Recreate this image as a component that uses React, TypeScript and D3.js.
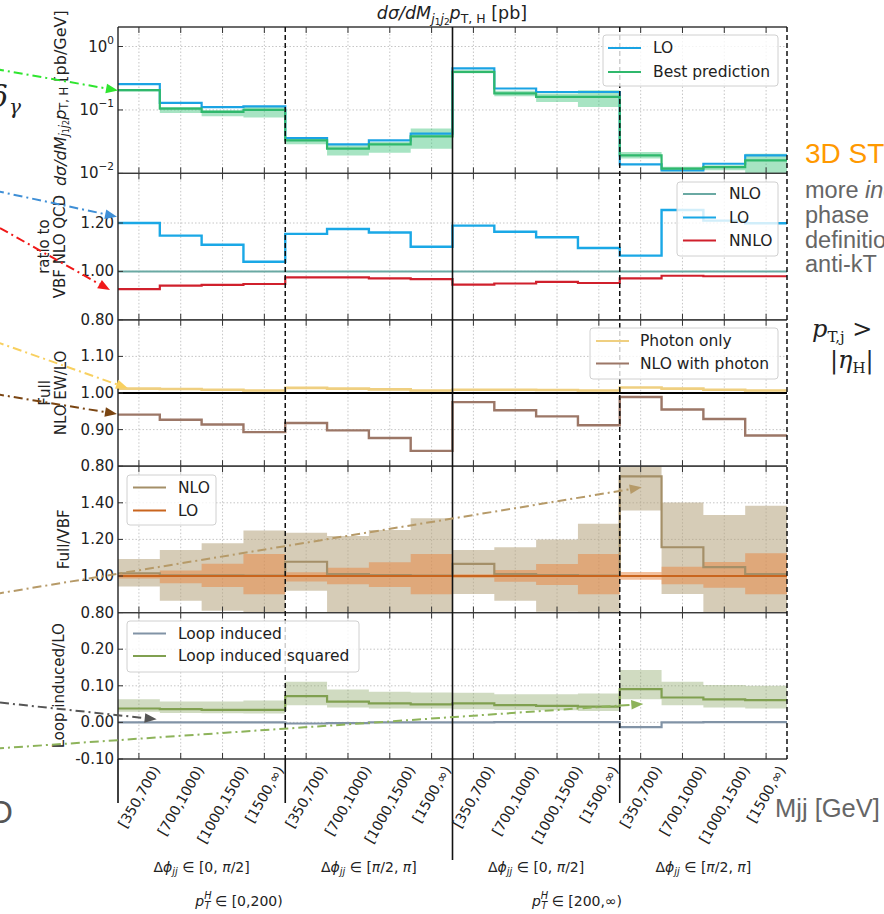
import React, { useEffect, useRef } from 'react';
import * as d3 from 'd3';

// ---------------- data ----------------
const mjjLabels = ['[350,700)', '[700,1000)', '[1000,1500)', '[1500,\u221e)'];
const dphiRanges = [['0', 'π/2'], ['π/2', 'π'], ['0', 'π/2'], ['π/2', 'π']];
const ptRanges = ['[0,200)', '[200,\u221e)'];

// panel 1: dσ/dMjj pT,H [pb/GeV]
const xsecLO = [0.255, 0.129, 0.111, 0.114, 0.0361, 0.0287, 0.0332, 0.0424, 0.451, 0.218, 0.192, 0.192, 0.0139, 0.0111, 0.0142, 0.0192];
const xsecBest = [0.205, 0.105, 0.093, 0.1, 0.0332, 0.0245, 0.0287, 0.0384, 0.398, 0.182, 0.161, 0.161, 0.0192, 0.0119, 0.0126, 0.016];
const xsecBestLo = [0.196, 0.0897, 0.0795, 0.0759, 0.0287, 0.0192, 0.0212, 0.0245, 0.38, 0.164, 0.134, 0.111, 0.0171, 0.0108, 0.0112, 0.0101];
const xsecBestHi = [0.212, 0.111, 0.1, 0.111, 0.035, 0.0278, 0.0313, 0.0508, 0.42, 0.2, 0.182, 0.205, 0.0217, 0.0127, 0.0135, 0.0204];

// panel 2: ratio to VBF NLO QCD
const ratioNLO = [1, 1, 1, 1, 1, 1, 1, 1, 1, 1, 1, 1, 1, 1, 1, 1];
const ratioLO = [1.2, 1.148, 1.11, 1.04, 1.155, 1.175, 1.161, 1.102, 1.189, 1.164, 1.141, 1.097, 1.065, 1.254, 1.21, 1.199];
const ratioNNLO = [0.927, 0.941, 0.944, 0.948, 0.975, 0.975, 0.971, 0.968, 0.945, 0.95, 0.957, 0.952, 0.971, 0.982, 0.98, 0.98];

// panel 3: Full NLO EW / LO
const ewPhoton = [1.012, 1.011, 1.009, 1.007, 1.014, 1.012, 1.01, 1.007, 1.009, 1.009, 1.008, 1.007, 1.015, 1.012, 1.009, 1.007];
const ewNLO = [0.941, 0.927, 0.914, 0.893, 0.918, 0.898, 0.877, 0.842, 0.975, 0.953, 0.936, 0.912, 0.989, 0.955, 0.929, 0.884];

// panel 4: Full/VBF
const fullNLO = [1.015, 1.004, 1.004, 1.002, 1.078, 1.011, 1.005, 1.002, 1.066, 1.011, 1.005, 1.002, 1.544, 1.157, 1.048, 1.011];
const fullNLOLo = [0.942, 0.865, 0.81, 0.78, 0.92, 0.78, 0.78, 0.78, 0.901, 0.865, 0.804, 0.78, 1.358, 0.901, 0.78, 0.78];
const fullNLOHi = [1.093, 1.142, 1.179, 1.248, 1.237, 1.219, 1.252, 1.316, 1.142, 1.157, 1.2, 1.285, 1.62, 1.402, 1.334, 1.384];
const fullLO = [1, 1, 1, 1, 1, 1, 1, 1, 1, 1, 1, 1, 1, 1, 1, 1];
const fullLOLo = [0.987, 0.96, 0.94, 0.9, 0.97, 0.955, 0.94, 0.9, 0.99, 0.968, 0.951, 0.9, 0.98, 0.955, 0.936, 0.9];
const fullLOHi = [1.013, 1.03, 1.067, 1.12, 1.02, 1.045, 1.075, 1.12, 1.01, 1.033, 1.066, 1.12, 1.022, 1.05, 1.077, 1.125];

// panel 5: Loop induced / LO
const loopInd = [0, 0, 0, 0, -0.003, -0.002, 0, 0, 0, 0.001, 0.001, 0.001, -0.013, 0, 0.001, 0.001];
const loopSq = [0.038, 0.036, 0.034, 0.034, 0.072, 0.057, 0.052, 0.049, 0.052, 0.047, 0.045, 0.043, 0.091, 0.068, 0.063, 0.061];
const loopSqLo = [0.029, 0.026, 0.025, 0.024, 0.047, 0.041, 0.038, 0.038, 0.036, 0.034, 0.033, 0.031, 0.063, 0.047, 0.041, 0.038];
const loopSqHi = [0.063, 0.057, 0.057, 0.06, 0.111, 0.09, 0.084, 0.082, 0.081, 0.077, 0.077, 0.079, 0.143, 0.111, 0.102, 0.1];

// ---------------- layout ----------------
const W = 884, H = 914;
const PL = 118, PR = 787, T0 = 27, PH = 146.4;
const FONT = "'DejaVu Sans', sans-serif";
const SLIDE = "'Liberation Sans', Arial, sans-serif";
const SERIF = "'DejaVu Serif', 'Liberation Serif', serif";

export default function App() {
  const ref = useRef<SVGSVGElement>(null);

  useEffect(() => {
    const svg = d3.select(ref.current);
    svg.selectAll('*').remove();
    const x = d3.scaleLinear().domain([0, 16]).range([PL, PR]);
    const nb = 16;
    const centers = d3.range(nb).map((i) => i + 0.5);

    const panels: any[] = [
      { scale: d3.scaleLog().domain([0.01, 2.03]), ticks: [0.01, 0.1, 1], log: true },
      { scale: d3.scaleLinear().domain([0.8, 1.405]), ticks: [0.8, 1.0, 1.2] },
      { scale: d3.scaleLinear().domain([0.8, 1.2]), ticks: [0.8, 0.9, 1.0, 1.1] },
      { scale: d3.scaleLinear().domain([0.8, 1.6]), ticks: [0.8, 1.0, 1.2, 1.4] },
      { scale: d3.scaleLinear().domain([-0.1, 0.3]), ticks: [-0.1, 0.0, 0.1, 0.2] },
    ];
    panels.forEach((p, i) => {
      p.top = T0 + i * PH;
      p.bottom = p.top + PH;
      p.scale.range([p.bottom, p.top]);
    });

    const defs = svg.append('defs');
    panels.forEach((p, i) => {
      defs.append('clipPath').attr('id', `clip${i}`)
        .append('rect').attr('x', PL).attr('y', p.top).attr('width', PR - PL).attr('height', PH);
    });

    const ext = (a: number[]) => [...a, a[a.length - 1]];

    const drawStep = (g: any, ys: any, vals: number[], color: string, w = 2.2) => {
      const line = d3.line<number>().x((_, i) => x(i)).y((d) => ys(d)).curve(d3.curveStepAfter);
      g.append('path').attr('d', line(ext(vals))).attr('fill', 'none')
        .attr('stroke', color).attr('stroke-width', w);
    };
    const drawBand = (g: any, ys: any, lo: number[], hi: number[], color: string, op: number) => {
      const loE = ext(lo), hiE = ext(hi);
      const area = d3.area<number>().x((_, i) => x(i)).y0((_, i) => ys(loE[i])).y1((_, i) => ys(hiE[i]))
        .curve(d3.curveStepAfter);
      g.append('path').attr('d', area(loE)).attr('fill', color).attr('fill-opacity', op).attr('stroke', 'none');
    };

    // ----- grids -----
    panels.forEach((p) => {
      const g = svg.append('g');
      centers.forEach((c) => {
        g.append('line').attr('x1', x(c)).attr('x2', x(c)).attr('y1', p.top).attr('y2', p.bottom)
          .attr('stroke', '#b8b8b8').attr('stroke-width', 0.8).attr('stroke-dasharray', '1.5,2');
      });
      p.ticks.forEach((t: number) => {
        const yy = p.scale(t);
        if (yy > p.bottom - 1 || yy < p.top + 1) return;
        g.append('line').attr('x1', PL).attr('x2', PR).attr('y1', yy).attr('y2', yy)
          .attr('stroke', '#b8b8b8').attr('stroke-width', 0.8).attr('stroke-dasharray', '1.5,2');
      });
    });

    // ----- panel 1 -----
    {
      const p = panels[0];
      const g = svg.append('g').attr('clip-path', 'url(#clip0)');
      drawBand(g, p.scale, xsecBestLo, xsecBestHi, '#3cc47a', 0.45);
      drawStep(g, p.scale, xsecLO, '#1aa3e3');
      drawStep(g, p.scale, xsecBest, '#2fb86c');
    }
    // ----- panel 2 -----
    {
      const p = panels[1];
      const g = svg.append('g').attr('clip-path', 'url(#clip1)');
      drawStep(g, p.scale, ratioNLO, '#6aa9a3', 2);
      drawStep(g, p.scale, ratioLO, '#1aa8e6', 2.4);
      drawStep(g, p.scale, ratioNNLO, '#d0202c', 2.2);
    }
    // ----- panel 3 -----
    {
      const p = panels[2];
      const g = svg.append('g').attr('clip-path', 'url(#clip2)');
      g.append('line').attr('x1', PL).attr('x2', PR).attr('y1', p.scale(1)).attr('y2', p.scale(1))
        .attr('stroke', '#000').attr('stroke-width', 2.2);
      drawStep(g, p.scale, ewPhoton, '#efcf80', 2.6);
      drawStep(g, p.scale, ewNLO, '#9c7767', 2.4);
    }
    // ----- panel 4 -----
    {
      const p = panels[3];
      const g = svg.append('g').attr('clip-path', 'url(#clip3)');
      drawBand(g, p.scale, fullNLOLo, fullNLOHi, '#b5a27c', 0.55);
      drawBand(g, p.scale, fullLOLo, fullLOHi, '#e8833e', 0.5);
      drawStep(g, p.scale, fullNLO, '#a48f68', 2.2);
      drawStep(g, p.scale, fullLO, '#c9651e', 2.2);
    }
    // ----- panel 5 -----
    {
      const p = panels[4];
      const g = svg.append('g').attr('clip-path', 'url(#clip4)');
      drawBand(g, p.scale, loopSqLo, loopSqHi, '#8aa565', 0.4);
      drawStep(g, p.scale, loopInd, '#8193a6', 2.2);
      drawStep(g, p.scale, loopSq, '#80a050', 2.2);
    }

    // ----- frames, dividers, ticks -----
    const frame = svg.append('g');
    panels.forEach((p) => {
      frame.append('line').attr('x1', PL).attr('x2', PR).attr('y1', p.top).attr('y2', p.top)
        .attr('stroke', '#3a3a3a').attr('stroke-width', 1.3);
      frame.append('line').attr('x1', PL).attr('x2', PR).attr('y1', p.bottom).attr('y2', p.bottom)
        .attr('stroke', '#3a3a3a').attr('stroke-width', 1.3);
      centers.forEach((c) => {
        frame.append('line').attr('x1', x(c)).attr('x2', x(c)).attr('y1', p.bottom).attr('y2', p.bottom - 6)
          .attr('stroke', '#333').attr('stroke-width', 1);
        frame.append('line').attr('x1', x(c)).attr('x2', x(c)).attr('y1', p.top).attr('y2', p.top + 6)
          .attr('stroke', '#333').attr('stroke-width', 1);
      });
      p.ticks.forEach((t: number) => {
        const yy = p.scale(t);
        frame.append('line').attr('x1', PL).attr('x2', PL + 5).attr('y1', yy).attr('y2', yy)
          .attr('stroke', '#333').attr('stroke-width', 1);
        const tx = frame.append('text').attr('x', 114).attr('y', yy).attr('text-anchor', 'end')
          .attr('dominant-baseline', 'central').attr('font-family', FONT).attr('font-size', 15).attr('fill', '#222');
        if (p.log) {
          const e = Math.round(Math.log10(t));
          tx.append('tspan').text('10');
          tx.append('tspan').attr('dy', -7).attr('font-size', 10.5).text(e === 0 ? '0' : `\u2212${-e}`);
        } else {
          tx.text(t < 0 ? `-${Math.abs(t).toFixed(2)}` : t.toFixed(2));
        }
      });
    });
    frame.append('line').attr('x1', PL).attr('x2', PL).attr('y1', T0).attr('y2', T0 + 5 * PH)
      .attr('stroke', '#222').attr('stroke-width', 1.4);
    [4, 12, 16].forEach((b) => {
      frame.append('line').attr('x1', x(b)).attr('x2', x(b)).attr('y1', T0).attr('y2', T0 + 5 * PH)
        .attr('stroke', '#111').attr('stroke-width', 1.5).attr('stroke-dasharray', '5,3');
    });
    frame.append('line').attr('x1', x(8)).attr('x2', x(8)).attr('y1', T0).attr('y2', T0 + 5 * PH)
      .attr('stroke', '#111').attr('stroke-width', 1.6);
    const yb = T0 + 5 * PH;
    [0, 4, 12].forEach((b) => {
      frame.append('line').attr('x1', x(b)).attr('x2', x(b)).attr('y1', yb).attr('y2', 803)
        .attr('stroke', '#111').attr('stroke-width', 1.6);
    });
    frame.append('line').attr('x1', x(8)).attr('x2', x(8)).attr('y1', yb).attr('y2', 860)
      .attr('stroke', '#111').attr('stroke-width', 1.6);

    // x tick labels (rotated)
    centers.forEach((c, i) => {
      const t = frame.append('text').attr('text-anchor', 'middle').attr('dominant-baseline', 'central')
        .attr('font-family', FONT).attr('font-size', 14).attr('fill', '#222').text(mjjLabels[i % 4]);
      const len = (t.node() as SVGTextElement).getComputedTextLength();
      const hh = 16;
      const bh = len * Math.sin(Math.PI / 3) + hh * Math.cos(Math.PI / 3);
      const cy = 763 + bh / 2;
      t.attr('transform', `translate(${x(c)},${cy}) rotate(-60)`);
    });

    // Δϕ group labels
    dphiRanges.forEach((r, k) => {
      const t = frame.append('text').attr('x', x(k * 4 + 2)).attr('y', 872).attr('text-anchor', 'middle')
        .attr('font-family', FONT).attr('font-size', 14).attr('fill', '#222');
      t.append('tspan').text('Δ');
      t.append('tspan').attr('font-style', 'italic').text('ϕ');
      t.append('tspan').attr('font-style', 'italic').attr('font-size', 9.8).attr('dy', 3).text('jj');
      t.append('tspan').attr('dy', -3).text(' ∈ [');
      const parts = [r[0], ', ', r[1], ']'];
      parts.forEach((s) => {
        if (s.includes('π')) {
          const [a, b] = s.split('π');
          if (a) t.append('tspan').text(a);
          t.append('tspan').attr('font-style', 'italic').text('π');
          if (b) t.append('tspan').text(b);
        } else t.append('tspan').text(s);
      });
    });
    // pT group labels
    [239, 577].forEach((cx, k) => {
      const t = frame.append('text').attr('x', cx).attr('y', 906).attr('text-anchor', 'middle')
        .attr('font-family', FONT).attr('font-size', 14).attr('fill', '#222');
      t.append('tspan').attr('font-style', 'italic').text('p');
      t.append('tspan').attr('font-style', 'italic').attr('font-size', 9.8).attr('dy', -7).text('H');
      t.append('tspan').attr('font-style', 'italic').attr('font-size', 9.8).attr('dx', -7).attr('dy', 10).text('T');
      t.append('tspan').attr('dy', -3).text(' ∈ ' + ptRanges[k]);
    });

    // title
    {
      const t = svg.append('text').attr('x', 452).attr('y', 19).attr('text-anchor', 'middle')
        .attr('font-family', FONT).attr('font-size', 17.5).attr('fill', '#222');
      t.append('tspan').attr('font-style', 'italic').text('dσ/dM');
      t.append('tspan').attr('font-style', 'italic').attr('font-size', 12.5).attr('dy', 4).text('j');
      t.append('tspan').attr('font-size', 9).attr('dy', 2).text('1');
      t.append('tspan').attr('font-style', 'italic').attr('font-size', 12.5).attr('dy', -2).text('j');
      t.append('tspan').attr('font-size', 9).attr('dy', 2).text('2');
      t.append('tspan').attr('font-style', 'italic').attr('dy', -6).text('p');
      t.append('tspan').attr('font-size', 12.5).attr('dy', 4).text('T, H');
      t.append('tspan').attr('dy', -4).text(' [pb]');
    }

    // y labels
    const yl = (cx: number, cy: number, fs = 15) =>
      svg.append('text').attr('transform', `translate(${cx},${cy}) rotate(-90)`).attr('text-anchor', 'middle')
        .attr('dominant-baseline', 'central').attr('font-family', FONT).attr('font-size', fs).attr('fill', '#222');
    {
      const t = yl(60, panels[0].top + PH / 2 - 2, 16);
      t.append('tspan').attr('font-style', 'italic').text('dσ/dM');
      t.append('tspan').attr('font-style', 'italic').attr('font-size', 11.5).attr('dy', 4).text('j');
      t.append('tspan').attr('font-size', 8).attr('dy', 2).text('1');
      t.append('tspan').attr('font-style', 'italic').attr('font-size', 11.5).attr('dy', -2).text('j');
      t.append('tspan').attr('font-size', 8).attr('dy', 2).text('2');
      t.append('tspan').attr('font-style', 'italic').attr('dy', -6).text('p');
      t.append('tspan').attr('font-size', 11.5).attr('dy', 4).text('T, H');
      t.append('tspan').attr('dy', -4).text(' [pb/GeV]');
    }
    yl(44, panels[1].top + PH / 2).text('ratio to');
    yl(60, panels[1].top + PH / 2).text('VBF NLO QCD');
    yl(45, panels[2].top + PH / 2).text('Full');
    yl(61, panels[2].top + PH / 2).text('NLO EW/LO');
    yl(64, panels[3].top + PH / 2).text('Full/VBF');
    yl(59, panels[4].top + PH / 2).text('Loop induced/LO');

    // legends
    const legend = (x0: number, y0: number, w: number, h: number, items: [string, string][], rows: number[], lx0: number, lx1: number, tx: number) => {
      const g = svg.append('g');
      g.append('rect').attr('x', x0).attr('y', y0).attr('width', w).attr('height', h).attr('rx', 3)
        .attr('fill', '#fff').attr('fill-opacity', 0.8).attr('stroke', '#d0d0d0').attr('stroke-width', 1);
      items.forEach(([label, color], k) => {
        g.append('line').attr('x1', lx0).attr('x2', lx1).attr('y1', rows[k]).attr('y2', rows[k])
          .attr('stroke', color).attr('stroke-width', 2);
        g.append('text').attr('x', tx).attr('y', rows[k]).attr('dominant-baseline', 'central')
          .attr('font-family', FONT).attr('font-size', 15.5).attr('fill', '#222').text(label);
      });
    };
    legend(603, 35, 175, 51, [['LO', '#1aa3e3'], ['Best prediction', '#2fb86c']], [48, 72], 608, 641, 653);
    legend(677, 182, 101, 74, [['NLO', '#6aa9a3'], ['LO', '#1aa8e6'], ['NNLO', '#d0202c']], [194, 217.5, 240.5], 683, 716, 729);
    legend(590, 328, 188, 51, [['Photon only', '#efcf80'], ['NLO with photon', '#9c7767']], [341, 363.5], 596, 629, 640);
    legend(127, 475, 89, 50, [['NLO', '#a48f68'], ['LO', '#c9651e']], [487.5, 510.5], 133, 166, 178);
    legend(127, 621, 232, 51, [['Loop induced', '#8193a6'], ['Loop induced squared', '#80a050']], [633.5, 656], 133, 166, 178);

    // annotation arrows (slide overlay)
    const arrows: [number, number, number, number, string][] = [
      [-5, 69, 118, 90.5, '#2fe52f'],
      [-5, 190.7, 117, 216.7, '#3f8fd6'],
      [0, 228, 110, 290, '#f01818'],
      [-5, 341.5, 128, 388.3, '#f8d060'],
      [-5, 394, 117, 414, '#7a4512'],
      [-5, 594, 641.7, 487.3, '#b69a68'],
      [0, 702.6, 156.7, 719.3, '#555555'],
      [-5, 748.6, 643.3, 704, '#8db35a'],
    ];
    const ag = svg.append('g');
    arrows.forEach(([x0, y0, x1, y1, c]) => {
      const ang = Math.atan2(y1 - y0, x1 - x0);
      const hl = 12, hw = 4.8;
      const bx = x1 - hl * Math.cos(ang), by = y1 - hl * Math.sin(ang);
      ag.append('line').attr('x1', x0).attr('y1', y0).attr('x2', bx).attr('y2', by)
        .attr('stroke', c).attr('stroke-width', 2).attr('stroke-dasharray', '9,4,2,4');
      const px = -Math.sin(ang) * hw, py = Math.cos(ang) * hw;
      ag.append('polygon').attr('points', `${x1},${y1} ${bx + px},${by + py} ${bx - px},${by - py}`).attr('fill', c);
    });

    // slide overlay texts
    const st = svg.append('g');
    st.append('text').attr('x', -10).attr('y', 107).attr('font-family', SERIF).attr('font-style', 'italic')
      .attr('font-size', 30).attr('fill', '#222').text('δ');
    st.append('text').attr('x', 9).attr('y', 114).attr('font-family', SERIF).attr('font-style', 'italic')
      .attr('font-size', 20).attr('fill', '#222').text('γ');
    st.append('text').attr('x', -12).attr('y', 823).attr('font-family', SLIDE).attr('font-size', 32)
      .attr('fill', '#555').text('O');
    st.append('text').attr('x', 805).attr('y', 163).attr('font-family', SLIDE).attr('font-size', 28)
      .attr('fill', '#ff9900').text('3D STXS');
    {
      const t = st.append('text').attr('x', 805).attr('y', 198).attr('font-family', SLIDE).attr('font-size', 23.5).attr('fill', '#666');
      t.append('tspan').text('more ');
      t.append('tspan').attr('font-style', 'italic').text('inclusive');
    }
    st.append('text').attr('x', 805).attr('y', 223).attr('font-family', SLIDE).attr('font-size', 23.5).attr('fill', '#666').text('phase');
    st.append('text').attr('x', 805).attr('y', 248).attr('font-family', SLIDE).attr('font-size', 23.5).attr('fill', '#666').text('definition');
    st.append('text').attr('x', 805).attr('y', 272).attr('font-family', SLIDE).attr('font-size', 23.5).attr('fill', '#666').text('anti-kT');
    {
      const t = st.append('text').attr('x', 812).attr('y', 337).attr('font-family', SERIF).attr('font-size', 24).attr('fill', '#222');
      t.append('tspan').attr('font-style', 'italic').text('p');
      t.append('tspan').attr('font-size', 15).attr('dy', 5).text('T,j');
      t.append('tspan').attr('dy', -5).text(' >');
    }
    {
      const t = st.append('text').attr('x', 830).attr('y', 368).attr('font-family', SERIF).attr('font-size', 24).attr('fill', '#222');
      t.append('tspan').text('|');
      t.append('tspan').attr('font-style', 'italic').text('η');
      t.append('tspan').attr('font-size', 15).attr('dy', 5).text('H');
      t.append('tspan').attr('dy', -5).text('|');
    }
    st.append('text').attr('x', 775).attr('y', 817).attr('font-family', SLIDE).attr('font-size', 25.5)
      .attr('fill', '#666').text('Mjj [GeV]');
  }, []);

  return (
    <svg ref={ref} width={W} height={H}
      style={{ position: 'absolute', left: 0, top: 0, background: '#fff', display: 'block' }} />
  );
}
